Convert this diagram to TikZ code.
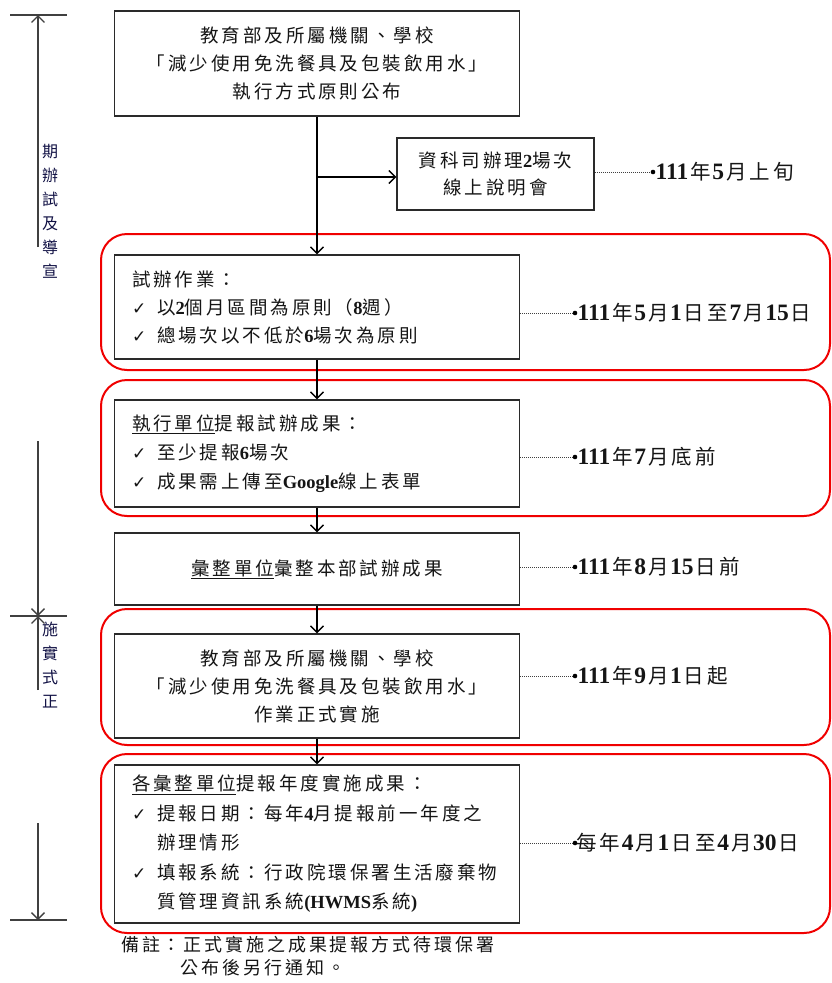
\documentclass[tikz,border=0pt]{standalone}
\usepackage{fontspec}
\setmainfont[LetterSpace=16]{Noto Sans CJK TC}
\newfontfamily\lat{Liberation Serif}
\newfontfamily\dv{DejaVu Sans}
\newcommand\B[1]{{\lat\bfseries #1}}
\newcommand\D[1]{\hspace{1.5pt}{\lat\bfseries\fontsize{23.5}{24}\selectfont #1}\hspace{2pt}}
\newcommand\ck{\makebox[25pt][l]{\dv\fontsize{17}{17}\selectfont ✓}}
\usetikzlibrary{arrows.meta}
\definecolor{txt}{HTML}{151515}
\definecolor{frame}{HTML}{2A2A2A}
\definecolor{redline}{HTML}{F00000}
\begin{document}
\begin{tikzpicture}[x=1pt,y=-1pt,
  box/.style={draw=frame, line width=1.5pt, fill=white, minimum width=405pt, inner sep=0pt, text=txt, font=\fontsize{18.5}{28}\selectfont},
  lbox/.style={box, text width=370pt, inner xsep=17.5pt, align=left},
  arr/.style={draw=black, line width=1.4pt, -{Straight Barb[length=6.5pt,width=13pt,line width=1.3pt]}},
  dotline/.style={draw=black!75, line width=1pt, densely dotted},
  lab/.style={anchor=west, inner sep=1pt, text=txt, font=\fontsize{20.5}{24}\selectfont},
  redbox/.style={draw=redline, line width=2pt, rounded corners=26pt},
  tl/.style={draw=black!75, line width=1.6pt},
  tlarr/.style={tl, -{Straight Barb[length=6.5pt,width=13pt,line width=1.3pt]}},
  vtext/.style={align=center, inner sep=0pt, text=txt!80!blue, font=\fontsize{16}{24}\selectfont}]
\useasboundingbox (0,0) rectangle (832,983);

% red frames
\draw[redbox] (101,234) rectangle (830,370);
\draw[redbox] (101,380) rectangle (830,516);
\draw[redbox] (101,609) rectangle (830,745);
\draw[redbox] (101,754) rectangle (830,933);

% boxes
\node[box, minimum height=105pt, align=center] (top) at (317,63.5)
  {教育部及所屬機關、學校\\「減少使用免洗餐具及包裝飲用水」\\執行方式原則公布};
\node[box, minimum width=197pt, minimum height=72pt, align=center, font=\fontsize{18.5}{27}\selectfont] (info) at (495.5,174)
  {資科司辦理\B{2}場次\\線上說明會};
\node[lbox, minimum height=104pt] (b2) at (317,307)
  {試辦作業：\\\ck 以\B{2}個月區間為原則（\B{8}週）\\\ck 總場次以不低於\B{6}場次為原則};
\node[lbox, minimum height=107pt, font=\fontsize{18.5}{29}\selectfont] (b3) at (317,453.5)
  {\underline{執行單位}提報試辦成果：\\\ck 至少提報\B{6}場次\\\ck 成果需上傳至\B{Google}線上表單};
\node[box, minimum height=72pt, align=center] (b4) at (317,569)
  {\underline{彙整單位}彙整本部試辦成果};
\node[box, minimum height=104pt, align=center] (b5) at (317,686)
  {教育部及所屬機關、學校\\「減少使用免洗餐具及包裝飲用水」\\作業正式實施};
\node[lbox, minimum height=158pt, font=\fontsize{18.5}{29.5}\selectfont] (b6) at (317,844)
  {\underline{各彙整單位}提報年度實施成果：\\\ck 提報日期：每年\B{4}月提報前一年度之\\\hspace*{25pt}辦理情形\\\ck 填報系統：行政院環保署生活廢棄物\\\hspace*{25pt}質管理資訊系統\B{(HWMS}系統\B{)}};

% flow connectors
\coordinate (br) at (317,177);
\draw[arr] (top.south) -- (b2.north);
\draw[arr] (br) -- (info.west |- br);
\draw[arr] (b2.south) -- (b3.north);
\draw[arr] (b3.south) -- (b4.north);
\draw[arr] (b4.south) -- (b5.north);
\draw[arr] (b5.south) -- (b6.north);

% date labels
\coordinate (p1) at (653,172);
\coordinate (p2) at (575,313);
\coordinate (p3) at (575,457);
\coordinate (p4) at (575,567);
\coordinate (p5) at (575,676);
\coordinate (p6) at (575,843);
\draw[dotline] (info.east |- p1) -- (p1);
\draw[dotline] (b2.east |- p2) -- (p2);
\draw[dotline] (b3.east |- p3) -- (p3);
\draw[dotline] (b4.east |- p4) -- (p4);
\draw[dotline] (b5.east |- p5) -- (p5);
\draw[dotline] (b6.east |- p6) -- (p6);
\foreach \p in {p1,p2,p3,p4,p5,p6} \fill[black] (\p) circle (2.3pt);
\node[lab] (l1) at (p1) {\D{111}年\D{5}月上旬};
\node[lab] (l2) at (p2) {\D{111}年\D{5}月\D{1}日至\D{7}月\D{15}日};
\node[lab] (l3) at (p3) {\D{111}年\D{7}月底前};
\node[lab] (l4) at (p4) {\D{111}年\D{8}月\D{15}日前};
\node[lab] (l5) at (p5) {\D{111}年\D{9}月\D{1}日起};
\node[lab] (l6) at (p6) {每年\D{4}月\D{1}日至\D{4}月\D{30}日};

% note
\node[anchor=north west, align=left, inner sep=0pt, text=txt, font=\fontsize{18}{23}\selectfont] (note) at (121,936)
  {備註：正式實施之成果提報方式待環保署\\\hphantom{備註：}公布後另行通知。};

% left timeline
\coordinate (c1l) at (10,15);  \coordinate (c1r) at (67,15);
\coordinate (s1b) at (38,247); \coordinate (s1t) at (38,15);
\coordinate (c2l) at (10,616); \coordinate (c2r) at (67,616);
\coordinate (s2t) at (38,441); \coordinate (s2m) at (38,616); \coordinate (s2b) at (38,690);
\coordinate (c3l) at (10,920); \coordinate (c3r) at (67,920);
\coordinate (s3t) at (38,823); \coordinate (s3b) at (38,920);
\draw[tl] (c1l) -- (c1r);
\draw[tlarr] (s1b) -- (s1t);
\draw[tl] (c2l) -- (c2r);
\draw[tlarr] (s2t) -- (s2m);
\draw[tlarr] (s2b) -- (s2m);
\draw[tl] (c3l) -- (c3r);
\draw[tlarr] (s3t) -- (s3b);
\node[vtext] (v1) at (50,211) {期\\辦\\試\\及\\導\\宣};
\node[vtext] (v2) at (50,665) {施\\實\\式\\正};
\end{tikzpicture}
\end{document}
